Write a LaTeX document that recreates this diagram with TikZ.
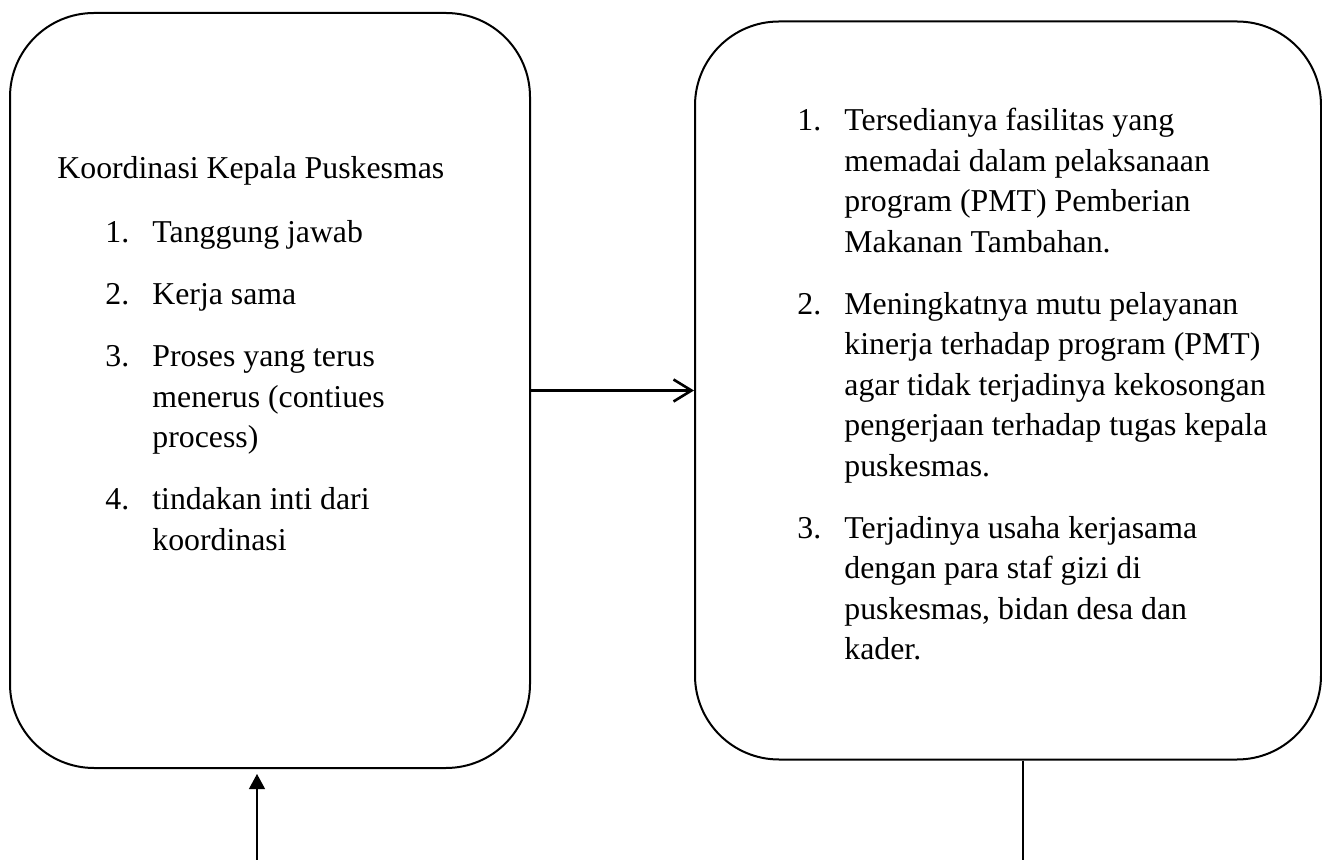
\documentclass[tikz,border=0pt]{standalone}
\usepackage{fontspec}
\setmainfont{Liberation Serif}
\usepackage{tikz}
\usetikzlibrary{positioning,arrows.meta}

\newcommand{\bodysize}{\fontsize{15.9pt}{20.25pt}\selectfont}
\newcommand{\numcol}[1]{\makebox[23.5pt][l]{#1}}

\begin{document}
\begin{tikzpicture}[
        x=0.5pt, y=-0.5pt,
        node distance=81.5pt,
        bigbox/.style={rectangle, draw, rounded corners=42pt, line width=1pt},
        txt/.style={inner sep=0pt, anchor=base west, align=left, font=\bodysize},
        arrow/.style={-{Straight Barb[length=9pt,width=11pt]}, line width=1.3pt},
        uparrow/.style={-{Triangle[length=7.5pt,width=8pt]}, line width=0.6pt, shorten >=2.5pt},
        thinline/.style={line width=0.6pt}
    ]
    \useasboundingbox (0,0) rectangle (1322,860);

    % the two boxes
    \node[bigbox, minimum width=260pt, minimum height=377.5pt] (koord) at (270,390.5) {};
    \node[bigbox, minimum width=313pt, minimum height=369pt, right=of koord] (hasil) {};

    % text of the left box
    \node[txt] (judul) at (57,178.6) {Koordinasi Kepala Puskesmas};
    \node[txt] (koordlist) at (105,243) {%
        \begin{tabular}[t]{@{}l@{}}
        \numcol{1.}Tanggung jawab\\[10.75pt]
        \numcol{2.}Kerja sama\\[10.75pt]
        \numcol{3.}Proses yang terus\\
        \numcol{}menerus (contiues\\
        \numcol{}process)\\[10.75pt]
        \numcol{4.}tindakan inti dari\\
        \numcol{}koordinasi
        \end{tabular}};

    % text of the right box
    \node[txt] (hasillist) at (797,131) {%
        \begin{tabular}[t]{@{}l@{}}
        \numcol{1.}Tersedianya fasilitas yang\\
        \numcol{}memadai dalam pelaksanaan\\
        \numcol{}program (PMT) Pemberian\\
        \numcol{}Makanan Tambahan.\\[10.75pt]
        \numcol{2.}Meningkatnya mutu pelayanan\\
        \numcol{}kinerja terhadap program (PMT)\\
        \numcol{}agar tidak terjadinya kekosongan\\
        \numcol{}pengerjaan terhadap tugas kepala\\
        \numcol{}puskesmas.\\[10.75pt]
        \numcol{3.}Terjadinya usaha kerjasama\\
        \numcol{}dengan para staf gizi di\\
        \numcol{}puskesmas, bidan desa dan\\
        \numcol{}kader.
        \end{tabular}};

    % connectors
    \coordinate (masuk) at (257,860);
    \coordinate (keluar) at (1023,860);
    \draw[arrow] (koord.east) -- (hasil.west);
    \draw[uparrow] (masuk) -- (masuk |- koord.south);
    \draw[thinline] (hasil.south -| keluar) -- (keluar);

\end{tikzpicture}
\end{document}
